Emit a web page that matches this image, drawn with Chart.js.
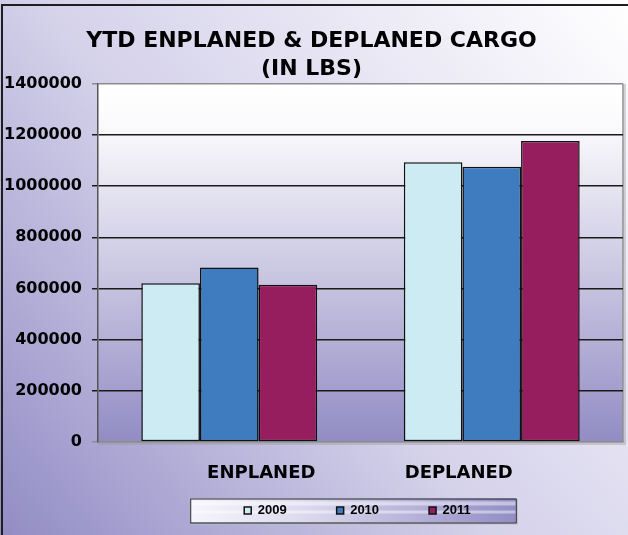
<!DOCTYPE html>
<html>
<head>
<meta charset="utf-8">
<script src="https://cdn.jsdelivr.net/npm/chart.js@4.4.0/dist/chart.umd.min.js"></script>
<style>
  html, body { margin: 0; padding: 0; background: #fff; }
</style>
</head>
<body>
<canvas id="cargoChart" width="628" height="535"></canvas>
<script>
const categories = ['ENPLANED', 'DEPLANED'];
const years = ['2009', '2010', '2011'];
const values2009 = [620000, 1093000];
const values2010 = [682000, 1076000];
const values2011 = [615000, 1176000];
const yTickValues = [0, 200000, 400000, 600000, 800000, 1000000, 1200000, 1400000];
const titleLines = ['YTD ENPLANED & DEPLANED CARGO', '(IN LBS)'];

const barColors = ['#cdebf2', '#3f7cbf', '#961e5e'];
const wideFont = "'DejaVu Sans', sans-serif";
// category names sit pulled in towards the middle in the original
const xLabelShift = [32, -33];

const backdrop = {
  id: 'backdrop',
  afterLayout(chart) {
    // legend is off-centre to the right
    chart.legend.left += 46;
    chart.legend.right += 46;
  },
  beforeDraw(chart) {
    const { ctx, width, height, chartArea: a } = chart;
    ctx.save();
    let g = ctx.createLinearGradient(0, height, width, 0);
    g.addColorStop(0, '#928cc4');
    g.addColorStop(0.45, '#d4d1ea');
    g.addColorStop(1, '#ffffff');
    ctx.fillStyle = g;
    ctx.fillRect(0, 0, width, height);

    ctx.strokeStyle = '#1e1e1e';
    ctx.lineWidth = 2;
    ctx.beginPath();
    ctx.moveTo(2, height);
    ctx.lineTo(2, 5);
    ctx.lineTo(width, 5);
    ctx.stroke();

    // plot area fill
    g = ctx.createLinearGradient(0, a.top, 0, a.bottom);
    g.addColorStop(0, '#ffffff');
    g.addColorStop(0.12, '#fafafc');
    g.addColorStop(1, '#928cc4');
    ctx.fillStyle = g;
    ctx.fillRect(a.left, a.top, a.right - a.left, a.bottom - a.top);
    ctx.strokeStyle = '#8c8c8c';
    ctx.lineWidth = 1.5;
    ctx.beginPath();
    ctx.moveTo(a.right, a.top);
    ctx.lineTo(a.right, a.bottom);
    ctx.stroke();
    ctx.strokeStyle = 'rgba(150,150,150,0.5)';
    ctx.beginPath();
    ctx.moveTo(a.left, a.bottom + 2);
    ctx.lineTo(a.right + 2, a.bottom + 2);
    ctx.lineTo(a.right + 2, a.top);
    ctx.stroke();

    // legend frame
    const hb = chart.legend.legendHitBoxes;
    if (hb && hb.length) {
      const last = hb[hb.length - 1];
      const l = hb[0].left - 54, r = last.left + last.width + 45;
      const yc = hb[0].top + hb[0].height / 2;
      const t = yc - 12, b = yc + 12;
      g = ctx.createLinearGradient(l, 0, r, 0);
      g.addColorStop(0, '#f6f5fb');
      g.addColorStop(0.35, '#dcd9ee');
      g.addColorStop(1, '#928dc5');
      ctx.fillStyle = g;
      ctx.fillRect(l, t, r - l, b - t);
      ctx.fillStyle = 'rgba(255,255,255,0.45)';
      ctx.fillRect(l, t + 3, r - l, 4);
      ctx.fillRect(l, t + 12, r - l, 3);
      ctx.strokeStyle = '#bdbdbd';
      ctx.lineWidth = 1;
      ctx.beginPath();
      ctx.moveTo(l + 1, b + 1.5);
      ctx.lineTo(r + 1.5, b + 1.5);
      ctx.lineTo(r + 1.5, t + 1);
      ctx.stroke();
      ctx.strokeStyle = '#262626';
      ctx.strokeRect(l + 0.5, t + 0.5, r - l, b - t);
    }
    ctx.restore();
  },
  afterDraw(chart) {
    const { ctx, chartArea: a } = chart;
    const xs = chart.scales.x;
    ctx.save();
    ctx.font = 'bold 18px ' + wideFont;
    ctx.fillStyle = '#000';
    ctx.textAlign = 'center';
    ctx.textBaseline = 'middle';
    categories.forEach((c, i) => {
      ctx.fillText(c, xs.getPixelForValue(i) + xLabelShift[i], a.bottom + 31);
    });
    ctx.restore();
  }
};

new Chart(document.getElementById('cargoChart'), {
  type: 'bar',
  data: {
    labels: categories,
    datasets: [values2009, values2010, values2011].map((vals, i) => ({
      label: years[i],
      data: vals,
      backgroundColor: barColors[i],
      borderColor: '#111',
      borderWidth: 1.5,
      borderSkipped: false
    }))
  },
  options: {
    responsive: false,
    animation: false,
    categoryPercentage: 0.67,
    barPercentage: 1,
    layout: { padding: { top: 27, right: 5, bottom: 8, left: 0 } },
    plugins: {
      title: {
        display: true,
        text: titleLines,
        color: '#000',
        font: { family: wideFont, size: 22, weight: 'bold', lineHeight: 1.29 },
        padding: 0
      },
      legend: {
        position: 'bottom',
        labels: {
          color: '#000',
          font: { family: "'Liberation Sans', Arial, sans-serif", size: 13, weight: 'bold' },
          boxWidth: 7,
          boxHeight: 7,
          padding: 50
        }
      },
      tooltip: { enabled: false }
    },
    scales: {
      x: {
        grid: { display: false },
        border: { color: '#8c8c8c', width: 1.5 },
        ticks: { display: false },
        afterFit: s => { s.height = 12; }
      },
      y: {
        min: 0,
        max: 1400000,
        afterBuildTicks: s => { s.ticks = yTickValues.map(v => ({ value: v })); },
        ticks: {
          callback: v => String(v),
          color: '#000',
          font: { family: wideFont, size: 16, weight: 'bold' },
          padding: 10
        },
        grid: {
          color: c => (c.tick && (c.tick.value === 0 || c.tick.value === 1400000)) ? '#8c8c8c' : '#1a1a1a',
          lineWidth: 1.5,
          tickLength: 6
        },
        border: { color: '#555', width: 1.5 },
        afterFit: s => { s.width = 98; }
      }
    }
  },
  plugins: [backdrop]
});
</script>
</body>
</html>
